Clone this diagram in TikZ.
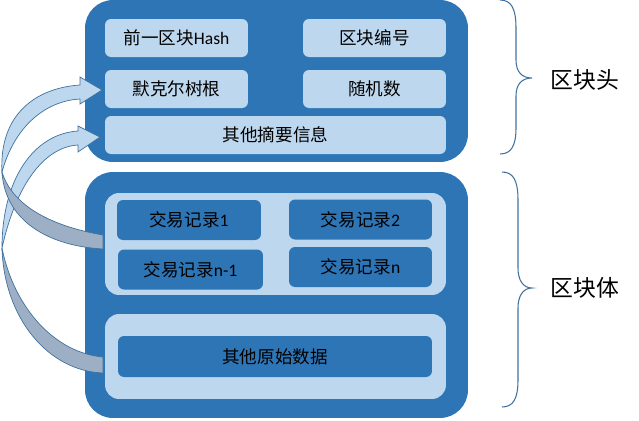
\documentclass[tikz,border=0pt]{standalone}
\usepackage{fontspec}
\setmainfont{Carlito}
\newfontfamily\cjk{Noto Sans CJK SC}
\usetikzlibrary{positioning}
\definecolor{deep}{RGB}{46,117,182}
\definecolor{pale}{RGB}{189,215,238}
\definecolor{edge}{RGB}{65,113,156}
\definecolor{shade}{RGB}{157,175,197}

\begin{document}
\begin{tikzpicture}[x=0.02cm,y=-0.02cm,font=\fontsize{10}{12}\selectfont,
  frame/.style={fill=deep,rounded corners=0.56cm,minimum width=7.66cm,inner sep=0},
  field/.style={fill=pale,rounded corners=0.12cm,minimum width=2.86cm,minimum height=0.76cm,inner sep=0},
  panel/.style={fill=pale,rounded corners=0.28cm,minimum width=6.82cm,inner sep=0},
  record/.style={fill=deep,rounded corners=0.12cm,minimum width=2.88cm,minimum height=0.8cm,inner sep=0},
  curlarrow/.style={draw=edge,line width=0.4pt},
  bracestroke/.style={draw=edge,line width=0.6pt},
  side/.style={font=\fontsize{13}{15}\selectfont\cjk}]
\useasboundingbox (0,0) rectangle (639,420);
% block header
\node[frame,minimum height=3.24cm] (head) at (276.5,81) {};
\node[field] (prevhash) at (176.5,38) {{\cjk 前一区块}Hash};
\node[field] (blockno) at (374.5,38) {\cjk 区块编号};
\node[field] (merkle) at (176.5,89) {\cjk 默克尔树根};
\node[field] (nonce) at (374.5,89) {\cjk 随机数};
\node[field,minimum width=6.82cm] (digest) at (275.5,135) {\cjk 其他摘要信息};
% block body
\node[frame,minimum height=4.92cm] (body) at (276.5,295) {};
\node[panel,minimum height=2.04cm] (txpanel) at (275.5,244) {};
\node[record] (tx1) at (189,220) {{\cjk 交易记录}1};
\node[record,minimum width=2.9cm] (txm) at (190.5,269.5) {{\cjk 交易记录}n-1};
\node[record,minimum width=2.86cm] (tx2) at (360.5,219.5) {{\cjk 交易记录}2};
\node[record,minimum width=2.86cm] (txn) at (360.5,267) {{\cjk 交易记录}n};
\node[panel,minimum height=1.7cm] (rawpanel) at (275.5,356.5) {};
\node[record,minimum width=6.28cm,minimum height=0.82cm] (rawdata) at (275,356.5) {\cjk 其他原始数据};
% curved arrows
\filldraw[curlarrow,fill=shade] (103,357) .. controls (55,353) and (14,308) .. (2,248)
  .. controls (4,318) and (48,371) .. (103,373) -- cycle;
\filldraw[curlarrow,fill=pale] (2,248) .. controls (2,180) and (33,134) .. (78,131) -- (78,126)
  -- (100,137) -- (78,152) -- (78,145) .. controls (44,147) and (16,185) .. (2,248) -- cycle;
\filldraw[curlarrow,fill=shade] (103,235) .. controls (50,226) and (12,205) .. (2,172)
  .. controls (5,222) and (50,246) .. (103,249) -- cycle;
\filldraw[curlarrow,fill=pale] (2,172) .. controls (-1,115) and (35,88) .. (80,85) -- (80,77)
  -- (102,90) -- (80,104) -- (80,99) .. controls (44,101) and (14,128) .. (2,172) -- cycle;
% braces
\draw[bracestroke] (500,0) .. controls (511,0) and (516,8) .. (516,28) -- (516,60)
  .. controls (516,72) and (522,78) .. (532,78) .. controls (522,78) and (516,84) .. (516,96)
  -- (516,128) .. controls (516,146) and (511,154) .. (500,154);
\draw[bracestroke] (502,172) .. controls (513,172) and (518,180) .. (518,200) -- (518,268)
  .. controls (518,280) and (523,288) .. (532,288) .. controls (523,288) and (518,296) .. (518,308)
  -- (518,380) .. controls (518,399) and (513,407) .. (502,407);
\node[side] (headlbl) at (585,80) {区块头};
\node[side] (bodylbl) at (585,288) {区块体};
\end{tikzpicture}
\end{document}
